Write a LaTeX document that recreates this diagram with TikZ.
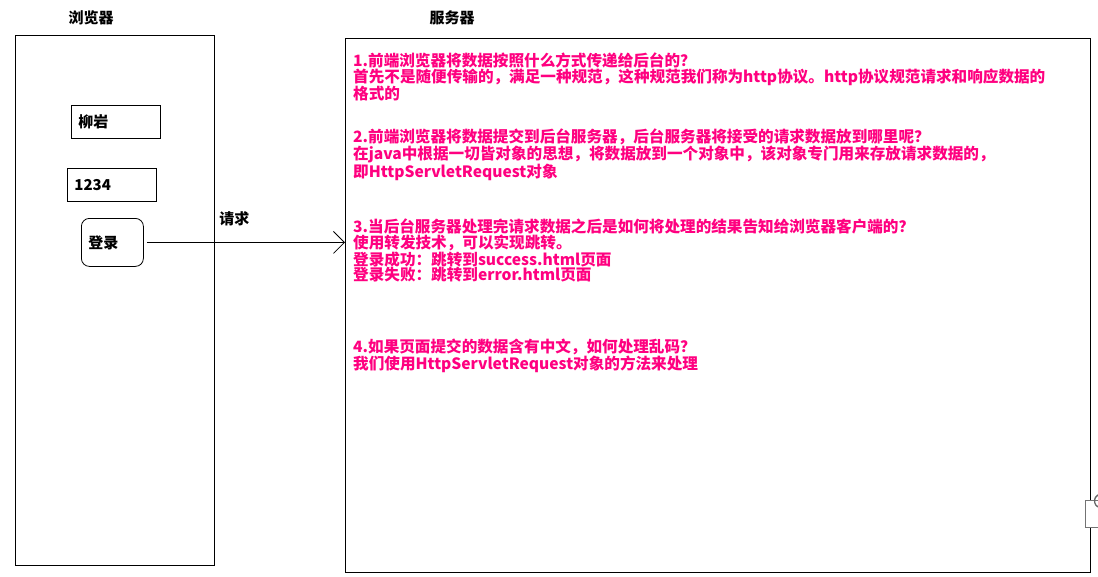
\documentclass[tikz,border=0pt]{standalone}
\usepackage{fontspec}
\setmainfont{Noto Sans CJK SC}
\usetikzlibrary{arrows.meta}
\definecolor{askpink}{RGB}{255,0,128}
\begin{document}
\begin{tikzpicture}[x=1pt,y=-1pt,
  pane/.style={draw,line width=0.8pt,anchor=north west,inner sep=0pt},
  field/.style={draw,line width=0.8pt,anchor=north west,text width=75pt,inner xsep=7pt,minimum height=33pt,align=left},
  title/.style={font=\fontsize{15}{15}\selectfont\bfseries},
  ask/.style={anchor=north west,inner sep=0pt,align=left,text=askpink,font=\fontsize{15.6}{15.4}\selectfont\bfseries}]
  \useasboundingbox[fill=white] (0,0) rectangle (1098,576);
  \node[title] (browsername) at (91,18) {浏览器};
  \node[title] (servername) at (452,18) {服务器};
  \node[pane,minimum width=199pt,minimum height=530pt] (browser) at (15,35) {};
  \node[pane,minimum width=745pt,minimum height=534pt] (server) at (345,38) {};
  \node[field,title] (user) at (71,105) {柳岩};
  \node[field,title] (pwd) at (67,168) {1234};
  \node[field,title,text width=48pt,minimum height=48pt,rounded corners=8pt] (login) at (81,218) {登录};
  \draw[line width=0.8pt,shorten <=3pt,-{Straight Barb[length=11pt,width=22pt]}] (login.east) -- (login.east -| server.west) node[pos=0.45,above=13pt,title] (req) {请求};
  \node[ask] (q1) at (353,53) {1.前端浏览器将数据按照什么方式传递给后台的？\\
    首先不是随便传输的，满足一种规范，这种规范我们称为http协议。http协议规范请求和响应数据的\\
    格式的};
  \node[ask] (q2) at (353,129) {2.前端浏览器将数据提交到后台服务器，后台服务器将接受的请求数据放到哪里呢？\\
    在java中根据一切皆对象的思想，将数据放到一个对象中，该对象专门用来存放请求数据的，\\
    即HttpServletRequest对象};
  \node[ask] (q3) at (353,219) {3.当后台服务器处理完请求数据之后是如何将处理的结果告知给浏览器客户端的？\\
    使用转发技术，可以实现跳转。\\
    登录成功：跳转到success.html页面\\
    登录失败：跳转到error.html页面};
  \node[ask] (q4) at (353,339) {4.如果页面提交的数据含有中文，如何处理乱码？\\
    我们使用HttpServletRequest对象的方法来处理};
  \draw[black!55,fill=white] (1085,500) rectangle (1102,527);
  \draw[black!60,line width=1.3pt] (1098,507) arc (120:240:7);
\end{tikzpicture}
\end{document}
